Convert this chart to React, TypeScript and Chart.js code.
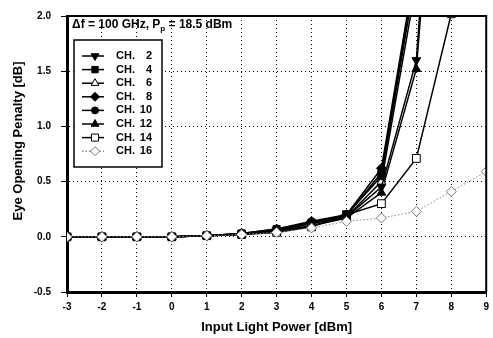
import React, { useEffect, useRef } from 'react';
import { Chart, registerables } from 'chart.js';

Chart.register(...registerables);

// ---- data ----
const xValues = [-3, -2, -1, 0, 1, 2, 3, 4, 5, 6, 7, 8, 9];
const ch2 = [0, 0, 0, 0, 0.01, 0.03, 0.06, 0.12, 0.18, 0.45, 1.6, 6.0, null];
const ch4 = [0, 0, 0, 0, 0.01, 0.03, 0.07, 0.13, 0.2, 0.55, 2.4, null, null];
const ch6 = [0, 0, 0, 0, 0.01, 0.02, 0.05, 0.1, 0.18, 0.5, 2.3, null, null];
const ch8 = [0, 0, 0, 0, 0.01, 0.03, 0.07, 0.14, 0.2, 0.62, 2.5, null, null];
const ch10 = [0, 0, 0, 0, 0.01, 0.03, 0.06, 0.12, 0.19, 0.58, 2.45, null, null];
const ch12 = [0, 0, 0, 0, 0.01, 0.02, 0.05, 0.1, 0.17, 0.4, 1.52, 5.5, null];
const ch14 = [0, 0, 0, 0, 0.01, 0.02, 0.04, 0.09, 0.2, 0.3, 0.71, 2.02, null];
const ch16 = [0, 0, 0, 0, 0.01, 0.02, 0.04, 0.08, 0.14, 0.17, 0.23, 0.41, 0.59];

const seriesNames = ['CH.', 'CH.', 'CH.', 'CH.', 'CH.', 'CH.', 'CH.', 'CH.'];
const seriesNumbers = ['2', '4', '6', '8', '10', '12', '14', '16'];
const seriesValues = [ch2, ch4, ch6, ch8, ch10, ch12, ch14, ch16];

const titleParts = ['\u0394f = 100 GHz, P', 'p', ' = 18.5 dBm'];
const xTitle = 'Input Light Power [dBm]';
const yTitle = 'Eye Opening Penalty [dB]';

const FONT = '"Liberation Sans", Arial, sans-serif';

type Style = {
  shape: 'triangle' | 'rect' | 'rectRot' | 'circle';
  rot: number;
  fill: string;
  stroke: string;
  line: string;
  dash: number[];
  r: number;
};

const styles: Style[] = [
  { shape: 'triangle', rot: 180, fill: '#000', stroke: '#000', line: '#000', dash: [], r: 5 },
  { shape: 'rect', rot: 0, fill: '#000', stroke: '#000', line: '#000', dash: [], r: 5 },
  { shape: 'triangle', rot: 0, fill: '#fff', stroke: '#000', line: '#000', dash: [], r: 5 },
  { shape: 'rectRot', rot: 0, fill: '#000', stroke: '#000', line: '#000', dash: [], r: 5 },
  { shape: 'circle', rot: 0, fill: '#000', stroke: '#000', line: '#000', dash: [], r: 4 },
  { shape: 'triangle', rot: 0, fill: '#000', stroke: '#000', line: '#000', dash: [], r: 5 },
  { shape: 'rect', rot: 0, fill: '#fff', stroke: '#000', line: '#000', dash: [], r: 5.5 },
  { shape: 'rectRot', rot: 0, fill: '#fff', stroke: '#777', line: '#888', dash: [1.5, 2], r: 5 },
];

function drawMarker(ctx: CanvasRenderingContext2D, s: Style, x: number, y: number) {
  const r = s.r;
  ctx.save();
  ctx.beginPath();
  if (s.shape === 'triangle') {
    let a = (s.rot * Math.PI) / 180;
    for (let i = 0; i < 3; i++) {
      const px = x + Math.sin(a) * r;
      const py = y - Math.cos(a) * r;
      if (i === 0) ctx.moveTo(px, py);
      else ctx.lineTo(px, py);
      a += (2 * Math.PI) / 3;
    }
    ctx.closePath();
  } else if (s.shape === 'rect') {
    const h = r * Math.SQRT1_2;
    ctx.rect(x - h, y - h, 2 * h, 2 * h);
  } else if (s.shape === 'rectRot') {
    ctx.moveTo(x - r, y);
    ctx.lineTo(x, y - r);
    ctx.lineTo(x + r, y);
    ctx.lineTo(x, y + r);
    ctx.closePath();
  } else {
    ctx.arc(x, y, r, 0, Math.PI * 2);
  }
  ctx.fillStyle = s.fill;
  ctx.fill();
  ctx.lineWidth = 1;
  ctx.strokeStyle = s.stroke;
  ctx.stroke();
  ctx.restore();
}

const decorPlugin = {
  id: 'decor',
  afterDraw(chart: any) {
    const { ctx, chartArea } = chart;
    const { left, top, right, bottom } = chartArea;
    ctx.save();
    // top and right frame
    ctx.strokeStyle = '#000';
    ctx.lineWidth = 2;
    ctx.beginPath();
    ctx.moveTo(left, top);
    ctx.lineTo(right, top);
    ctx.lineTo(right, bottom);
    ctx.stroke();

    // title inside plot
    ctx.fillStyle = '#000';
    ctx.textBaseline = 'alphabetic';
    ctx.textAlign = 'left';
    ctx.font = `bold 12px ${FONT}`;
    let tx = left + 5;
    const ty = top + 12;
    ctx.fillText(titleParts[0], tx, ty);
    tx += ctx.measureText(titleParts[0]).width;
    ctx.font = `bold 8px ${FONT}`;
    ctx.fillText(titleParts[1], tx, ty + 3);
    tx += ctx.measureText(titleParts[1]).width;
    ctx.font = `bold 12px ${FONT}`;
    ctx.fillText(titleParts[2], tx, ty);

    // legend box
    const bx = left + 7;
    const by = top + 24;
    const bw = 88;
    const bh = 127;
    ctx.fillStyle = '#fff';
    ctx.fillRect(bx, by, bw, bh);
    ctx.strokeStyle = '#000';
    ctx.lineWidth = 1.5;
    ctx.strokeRect(bx, by, bw, bh);
    ctx.font = `bold 11px ${FONT}`;
    ctx.textBaseline = 'middle';
    for (let i = 0; i < styles.length; i++) {
      const s = styles[i];
      const ey = by + 16 + i * 13.6;
      ctx.save();
      ctx.strokeStyle = s.line;
      ctx.lineWidth = 1.5;
      ctx.setLineDash(s.dash);
      ctx.beginPath();
      ctx.moveTo(bx + 8, ey);
      ctx.lineTo(bx + 30, ey);
      ctx.stroke();
      ctx.restore();
      drawMarker(ctx, { ...s, r: s.r - 0.5 }, bx + 21, ey);
      ctx.fillStyle = '#000';
      ctx.textAlign = 'left';
      ctx.fillText(seriesNames[i], bx + 42, ey);
      ctx.textAlign = 'right';
      ctx.fillText(seriesNumbers[i], bx + 78, ey);
    }

    // axis titles
    ctx.fillStyle = '#000';
    ctx.font = `bold 13px ${FONT}`;
    ctx.textAlign = 'center';
    ctx.textBaseline = 'middle';
    ctx.fillText(xTitle, (left + right) / 2, 327);
    ctx.save();
    ctx.translate(18, 141);
    ctx.rotate(-Math.PI / 2);
    ctx.fillText(yTitle, 0, 0);
    ctx.restore();
    ctx.restore();
  },
};

export default function App() {
  const ref = useRef<HTMLCanvasElement | null>(null);
  useEffect(() => {
    document.body.style.margin = '0';
    const canvas = ref.current;
    if (!canvas) return;
    const datasets = seriesValues.map((vals, i) => {
      const s = styles[i];
      const data = xValues
        .map((x, j) => ({ x, y: vals[j] }))
        .filter((p) => p.y !== null && p.y !== undefined);
      return {
        label: seriesNames[i] + ' ' + seriesNumbers[i],
        data,
        borderColor: s.line,
        borderWidth: i === 7 ? 1 : 1.5,
        borderDash: s.dash,
        backgroundColor: s.fill,
        pointBackgroundColor: s.fill,
        pointBorderColor: s.stroke,
        pointBorderWidth: 1,
        pointStyle: s.shape,
        pointRotation: s.rot,
        pointRadius: s.r,
        tension: 0,
        order: i === 7 ? -1 : i,
      };
    });
    const chart = new Chart(canvas, {
      type: 'line',
      data: { datasets: datasets as any },
      options: {
        animation: false,
        responsive: true,
        maintainAspectRatio: false,
        layout: { padding: { top: 12, right: 5, bottom: 0, left: 0 } },
        plugins: { legend: { display: false }, tooltip: { enabled: false } },
        scales: {
          x: {
            type: 'linear',
            min: -3,
            max: 9,
            ticks: {
              stepSize: 1,
              color: '#000',
              font: { family: FONT, size: 10, weight: 'bold' },
              padding: 4,
              maxRotation: 0,
            },
            grid: {
              color: '#000',
              lineWidth: 1,
              tickLength: 5,
              tickColor: '#000',
              tickBorderDash: [],
            },
            border: { display: true, color: '#000', width: 3, dash: [1, 3] },
            afterFit: (s: any) => {
              s.height = 46;
            },
          },
          y: {
            type: 'linear',
            min: -0.5,
            max: 2.0,
            ticks: {
              stepSize: 0.5,
              color: '#000',
              font: { family: FONT, size: 10, weight: 'bold' },
              padding: 10,
              callback: (v: any) => Number(v).toFixed(1),
            },
            grid: {
              color: '#000',
              lineWidth: 1,
              tickLength: 6,
              tickColor: '#000',
              tickBorderDash: [],
            },
            border: { display: true, color: '#000', width: 3, dash: [1, 3] },
            afterFit: (s: any) => {
              s.width = 67;
            },
          },
        },
      } as any,
      plugins: [decorPlugin],
    });
    return () => chart.destroy();
  }, []);
  return (
    <div style={{ width: 493, height: 338, position: 'relative', background: '#fff' }}>
      <canvas ref={ref} />
    </div>
  );
}
